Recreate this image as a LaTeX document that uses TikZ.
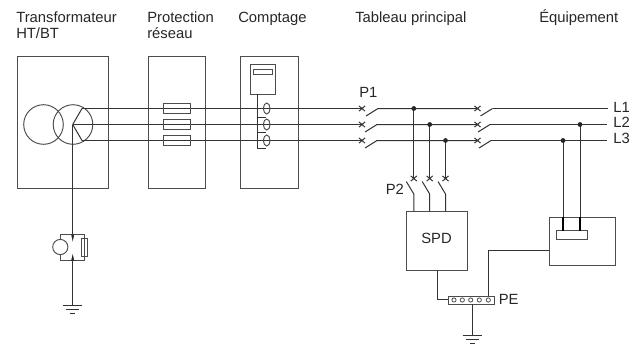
\documentclass[tikz,border=0pt]{standalone}
\usepackage{fontspec}
\setmainfont{Liberation Sans}
\tikzset{
 wire/.style={line width=0.75pt,black!80,line cap=butt},
 box/.style={draw=black!70,line width=0.72pt,fill=none,inner sep=0pt,outer sep=0pt},
 lbl/.style={font=\fontsize{11.1pt}{11.5pt}\selectfont,inner sep=0pt,anchor=base west,align=left,text=black!85},
 dotm/.style={circle,fill=black!85,inner sep=0pt,minimum size=3.6pt}
}
\newcommand{\xm}[2]{\draw[wire] (#1-3,#2-2.6)--(#1+3,#2+2.6) (#1-3,#2+2.6)--(#1+3,#2-2.6);}
\begin{document}
\begin{tikzpicture}[x=0.75pt,y=-0.75pt]
\useasboundingbox (0,0) rectangle (635,344);
% Labels
\node[lbl] (t1) at (16,38) {Transformateur\\HT/BT};
\node[lbl] (t2) at (147,38) {Protection\\réseau};
\node[lbl] (t3) at (238,22.5) {Comptage};
\node[lbl] (t4) at (355,22.5) {Tableau principal};
\node[lbl] (t5) at (539,22.5) {Équipement};
% Big boxes
\draw[box] (17,56) rectangle (108.5,188);
\draw[box] (148,56) rectangle (205.5,188);
\draw[box] (240.5,56) rectangle (298,188);
% Transformer
\draw[box] (43.5,124.5) circle (19.8);
\draw[box] (73,124.5) circle (19.8);
\draw[wire] (72.7,124.5)--(82,108.5) (72.7,124.5)--(82,140.5);
\draw[wire] (82,108.5)--(362,108.5);
\draw[wire,line width=0.9pt] (72.7,124.5)--(362,124.5);
\draw[wire,line width=1.3pt] (148,124.5)--(205,124.5);
\draw[wire] (82,140.5)--(362,140.5);
% Fuses
\foreach \y in {108.5,124.5,140.5}{\draw[box] (163,\y-5) rectangle (190.5,\y+5);}
% Meter
\draw[box] (250,64.5) rectangle (275.5,94);
\draw[box] (253.5,69) rectangle (272,74);
\draw[wire] (257.5,94)--(257.5,148)--(266,148);
\draw[wire] (257.5,117)--(266,117) (257.5,132.5)--(266,132.5);
\foreach \y in {108.5,124.5,140.5}{\draw[box] (266.7,\y) ellipse (3.3 and 5.5);}
% P1 switches
\foreach \y/\a in {108.5/378,124.5/377,140.5/377}{
 \xm{362}{\y}
 \draw[wire] (\a-12,\y+7.5)--(\a,\y)--(478,\y);
}
% second switches
\foreach \y/\a in {108.5/492.5,124.5/490,140.5/491}{
 \xm{477.5}{\y}
 \draw[wire] (\a-12,\y+7.5)--(\a,\y);
}
\draw[wire] (492.5,108.5)--(608,108.5);
\draw[wire] (490,124.5)--(607,124.5);
\draw[wire] (491,140.5)--(607,140.5);
% L labels
\node[lbl] (l1) at (613,112) {L1};
\node[lbl] (l2) at (613,127.5) {L2};
\node[lbl] (l3) at (613,143.5) {L3};
\node[lbl] (p1) at (359,97) {P1};
\node[lbl] (p2) at (385.5,194) {P2};
% P2 drops
\foreach \x/\y in {413.8/108.5,429.7/124.5,445.5/140.5}{
 \draw[wire] (\x,\y)--(\x,178.5);
 \node[dotm] at (\x,\y) {};
 \xm{\x}{178.5}
 \draw[wire] (\x-7.5,181.5)--(\x,194)--(\x,211);
}
% SPD
\draw[box] (406.5,211) rectangle (467.5,270.5);
\node[lbl] (spd) at (421,243) {SPD};
\draw[wire] (437,270.5)--(437,299.5)--(448,299.5);
% PE
\draw[box] (448,296) rectangle (494,304);
\foreach \x in {454,462.3,470.7,479.3,488.3}{\draw[box,line width=0.6pt] (\x,300) circle (2.1);}
\node[lbl] (pe) at (498.5,304) {PE};
\draw[wire] (488,296)--(488,250)--(549.5,250);
\draw[wire] (472.3,304)--(472.3,335);
% Ground right
\draw[wire] (462.7,335)--(482,335) (465.7,339.5)--(479.3,339.5) (470,343.3)--(475,343.3);
% Equipment
\draw[box] (549.5,217.3) rectangle (615,265.7);
\draw[box] (556.7,230.5) rectangle (587.7,239.3);
\draw[wire] (563,140.5)--(563,217);
\draw[wire] (580,124.5)--(580,217);
\draw[wire,line width=1.3pt,black] (563,217)--(563,230.5) (580,217)--(580,230.5);
\node[dotm] at (563,140.5) {};
\node[dotm] at (580,124.5) {};
% Left earthing
\draw[wire] (72.7,124.5)--(72.7,235);
\draw[wire] (72.7,260)--(72.7,305);
\draw[box] (60,239.5)--(60,234.5)--(84.5,234.5)--(84.5,260.5)--(60,260.5)--(60,254.5);
\draw[box] (60.3,247) circle (7.6);
\draw[box] (81.7,238.3) rectangle (87.3,256);
\fill[black!85] (71.2,234.5)--(74.2,234.5)--(72.7,241.5)--cycle;
\fill[black!85] (71.2,260.5)--(74.2,260.5)--(72.7,254)--cycle;
\draw[wire] (63,305)--(82,305) (66,309)--(79,309) (70,313.5)--(75,313.5);
\end{tikzpicture}
\end{document}
